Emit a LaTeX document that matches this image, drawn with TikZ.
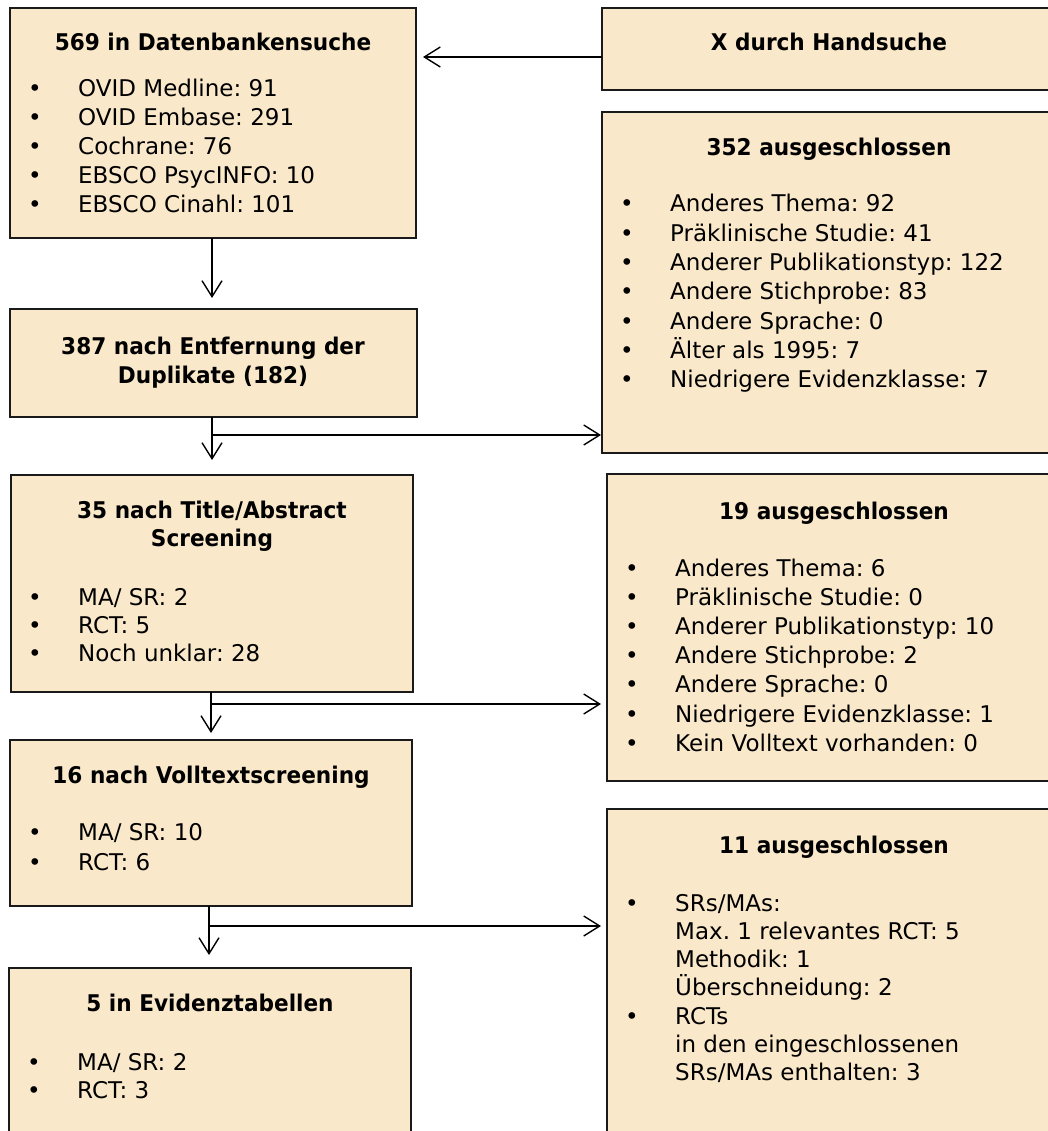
\documentclass[tikz,border=0pt]{standalone}
\usepackage{fontspec}
\setmainfont{DejaVu Sans}
\newfontfamily\headfont[FakeStretch=0.94]{DejaVu Sans}
\usetikzlibrary{arrows.meta}
\frenchspacing

\definecolor{boxfill}{RGB}{250,232,202}
\definecolor{boxline}{RGB}{26,26,26}

% bullet column and plain indent of the same width
\newcommand\bul{\makebox[50pt][l]{•}}
\newcommand\nob{\hspace*{50pt}}

% framed step: name, left, top, right, bottom (in px)
\newcommand\flowbox[5]{%
  \node[box, minimum width={(#4-#2)*1pt}, minimum height={(#5-#3)*1pt}] (#1) at (#2,#3) {};}

\tikzset{
  box/.style={draw=boxline, line width=1.5pt, fill=boxfill, rectangle,
    anchor=north west, inner sep=0pt, outer sep=0pt},
  head/.style={anchor=base, inner sep=0pt,
    font=\headfont\bfseries\fontsize{23}{28}\selectfont},
  entry/.style={anchor=base west, inner sep=0pt,
    font=\fontsize{23}{29}\selectfont},
  flow/.style={draw=black, line width=1.4pt,
    -{Straight Barb[length=16pt,width=20pt,line width=1.4pt]}},
}

\begin{document}
\begin{tikzpicture}[x=1pt,y=-1pt]
\clip (0,0) rectangle (1048,1131);
\fill[white] (0,0) rectangle (1048,1131);

% ---------- boxes ----------
\flowbox{A}{10}{8}{416}{238}
\flowbox{hand}{602}{8}{1056}{90}
\flowbox{R1}{602}{112}{1056}{453}
\flowbox{B2}{10}{309}{417}{417}
\flowbox{B35}{11}{475}{413}{692}
\flowbox{R2}{607}{474}{1061}{781}
\flowbox{B16}{10}{740}{412}{906}
\flowbox{R3}{607}{809}{1061}{1160}
\flowbox{B5}{9}{968}{411}{1160}

% ---------- headings ----------
\node[head] (A-h) at (213,51) {569 in Datenbankensuche};
\node[head] (hand-h) at (829,51) {X durch Handsuche};
\node[head] (R1-h) at (829,156) {352 ausgeschlossen};
\node[head] (B2-h1) at (213,354) {387 nach Entfernung der};
\node[head] (B2-h2) at (213,383) {Duplikate (182)};
\node[head] (B35-h1) at (212,518) {35 nach Title/Abstract};
\node[head] (B35-h2) at (212,546) {Screening};
\node[head] (R2-h) at (834,519) {19 ausgeschlossen};
\node[head] (B16-h) at (211,783) {16 nach Volltextscreening};
\node[head] (R3-h) at (834,853) {11 ausgeschlossen};
\node[head] (B5-h) at (210,1011) {5 in Evidenztabellen};

% ---------- lists ----------
\foreach \t [count=\i] in {OVID Medline: 91, OVID Embase: 291, Cochrane: 76,
    EBSCO PsycINFO: 10, EBSCO Cinahl: 101}
  \node[entry] (A-\i) at (28,{97+29*(\i-1)}) {\bul\t};

\foreach \t [count=\i] in {Anderes Thema: 92, Präklinische Studie: 41,
    Anderer Publikationstyp: 122, Andere Stichprobe: 83, Andere Sprache: 0,
    Älter als 1995: 7, Niedrigere Evidenzklasse: 7}
  \node[entry] (R1-\i) at (620,{212+29.3*(\i-1)}) {\bul\t};

\foreach \t [count=\i] in {MA/ SR: 2, RCT: 5, Noch unklar: 28}
  \node[entry] (B35-\i) at (28,{605+28*(\i-1)}) {\bul\t};

\foreach \t [count=\i] in {Anderes Thema: 6, Präklinische Studie: 0,
    Anderer Publikationstyp: 10, Andere Stichprobe: 2, Andere Sprache: 0,
    Niedrigere Evidenzklasse: 1, Kein Volltext vorhanden: 0}
  \node[entry] (R2-\i) at (625,{576+29.2*(\i-1)}) {\bul\t};

\foreach \t [count=\i] in {MA/ SR: 10, RCT: 6}
  \node[entry] (B16-\i) at (28,{840+30*(\i-1)}) {\bul\t};

\foreach \t [count=\i] in {\bul SRs/MAs:, \nob Max. 1 relevantes RCT: 5,
    \nob Methodik: 1, \nob Überschneidung: 2, \bul RCTs,
    \nob in den eingeschlossenen, \nob SRs/MAs enthalten: 3}
  \node[entry] (R3-\i) at (625,{911+28.3*(\i-1)}) {\t};

\foreach \t [count=\i] in {MA/ SR: 2, RCT: 3}
  \node[entry] (B5-\i) at (27,{1070+28*(\i-1)}) {\bul\t};

% ---------- connectors ----------
\draw[flow, shorten >=7pt] (hand.west |- 0,57) -- (A.east |- 0,57);

\draw[flow, shorten >=11pt] (A.south -| 212,0) -- (B2.north -| 212,0);

\draw[flow, shorten >=15pt] (B2.south -| 212,0) -- (B35.north -| 212,0);
\draw[flow, shorten >=1pt] (212,435) -- (R1.west |- 0,435);

\draw[flow, shorten >=7pt] (B35.south -| 211,0) -- (B16.north -| 211,0);
\draw[flow, shorten >=6pt] (211,704) -- (R2.west |- 0,704);

\draw[flow, shorten >=13pt] (B16.south -| 209,0) -- (B5.north -| 209,0);
\draw[flow, shorten >=6pt] (209,926) -- (R3.west |- 0,926);
\end{tikzpicture}
\end{document}
